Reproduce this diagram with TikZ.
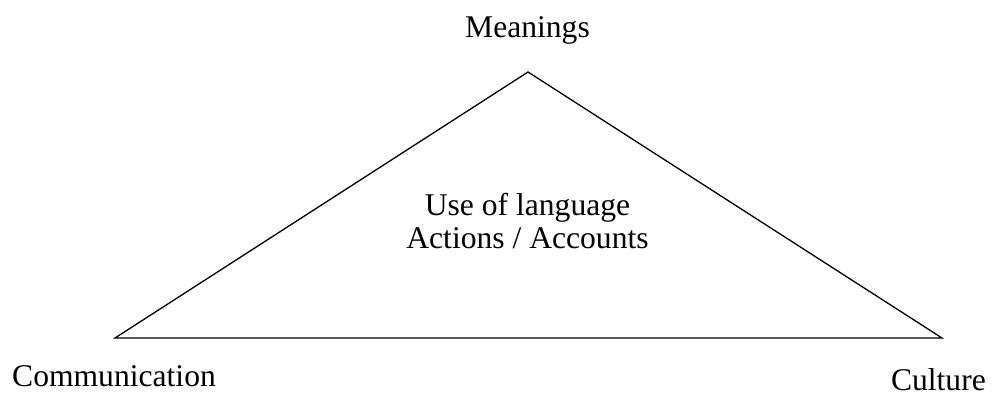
\documentclass[tikz,border=0pt]{standalone}
\usepackage{fontspec}
\setmainfont{Liberation Serif}
\begin{document}
\begin{tikzpicture}[x=1pt,y=-1pt,
  lbl/.style={inner sep=0pt,anchor=base,font=\fontsize{31.6}{33}\selectfont},
  edge/.style={line width=1.3pt,line join=miter}]
\useasboundingbox (0,0) rectangle (992,399);
\coordinate (top) at (528,72);
\coordinate (bl) at (115,338);
\coordinate (br) at (942,338);
\draw[edge] (top) -- (br) -- (bl) -- cycle;
\node[lbl] (mean) at (527.5,37) {Meanings};
\node[lbl] (use) at (527.5,215) {Use of language};
\node[lbl] (act) at (527.5,248) {Actions / Accounts};
\node[lbl,anchor=base west] (comm) at (12,386) {Communication};
\node[lbl,anchor=base east] (cult) at (986,390) {Culture};
\end{tikzpicture}
\end{document}
